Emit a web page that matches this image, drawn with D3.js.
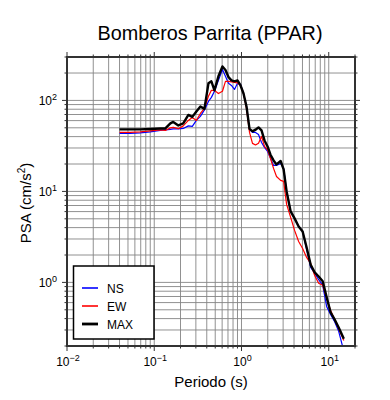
<!DOCTYPE html>
<html>
<head>
<meta charset="utf-8">
<script src="https://cdn.jsdelivr.net/npm/d3@7"></script>
<style>
  body { margin: 0; background: #fff; }
  text { font-family: "Liberation Sans", Arial, Helvetica, sans-serif; fill: #000; }
</style>
</head>
<body>
<svg id="chart" width="390" height="400"></svg>
<script>
// data
let periods = [0.040, 0.053, 0.069, 0.090, 0.117, 0.134, 0.153, 0.165, 0.189, 0.215,
  0.246, 0.273, 0.304, 0.338, 0.376, 0.418, 0.452, 0.490, 0.544, 0.605,
  0.655, 0.709, 0.767, 0.831, 0.900, 0.975, 1.055, 1.141, 1.236, 1.337,
  1.448, 1.567, 1.697, 1.836, 1.99, 2.15, 2.33, 2.52, 2.81, 3.04,
  3.29, 3.66, 4.06, 4.52, 5.02, 5.58, 6.21, 6.90, 7.67, 8.53,
  9.48, 10.5, 11.7, 13.0, 14.9];

let psaNS = [43.4, 43.4, 44.0, 45.1, 46.8, 47.4, 48.0, 48.6, 48.6, 49.2,
  52.5, 51.8, 60.3, 66.7, 78.6, 97.5, 108, 126, 166, 219,
  184, 154, 146, 132, 154, 150, 119, 85.9, 48.0, 44.5,
  44.5, 42.3, 34.5, 30.5, 27.5, 23.2, 19.3, 19.3, 20.3, 17.9,
  10.0, 6.03, 5.05, 4.12, 3.63, 2.30, 1.46, 1.26, 1.07, 0.93,
  0.54, 0.445, 0.37, 0.29, 0.175];

let psaEW = [44.5, 44.5, 45.1, 46.2, 47.4, 46.8, 49.9, 50.5, 48.9, 52.5,
  60.3, 65.0, 60.3, 71.9, 81.7, 111, 129, 129, 119, 126,
  162, 162, 160, 158, 156, 146, 119, 81.7, 44.5, 33.7,
  32.4, 33.9, 40.2, 31.2, 28.6, 23.0, 17.9, 14.6, 13.2, 12.9,
  7.2, 5.18, 3.73, 2.82, 2.36, 1.88, 1.62, 1.19, 0.98, 0.93,
  0.67, 0.49, 0.39, 0.31, 0.23];

let psaMAX = [48.0, 48.0, 48.0, 48.6, 49.2, 49.2, 55.9, 58.0, 53.1, 55.9,
  69.3, 65.9, 75.7, 85.9, 80.7, 154, 162, 129, 184, 236,
  216, 181, 166, 162, 166, 146, 119, 85.9, 48.6, 45.7,
  47.7, 50.5, 46.8, 36.3, 31.2, 25.3, 21.9, 19.8, 21.6, 17.5,
  10.0, 6.03, 5.05, 4.12, 3.63, 2.42, 1.56, 1.29, 1.16, 1.03,
  0.68, 0.47, 0.39, 0.32, 0.24];

let seriesNames  = ["NS", "EW", "MAX"];
let seriesColors = ["#0000ff", "#ff0000", "#000000"];
let seriesWidths = [1.2, 1.2, 2.4];
let xDomain = [0.01, 20];
let yDomain = [0.2, 300];
let xTickExps = [-2, -1, 0, 1];
let yTickExps = [0, 1, 2];

let kChart = { "x": 67, "y": 57, "w": 288, "h": 289 };

let svg = d3.select("#chart");

let x = d3.scaleLog().domain(xDomain).range([kChart.x, kChart.x + kChart.w]);
let y = d3.scaleLog().domain(yDomain).range([kChart.y + kChart.h, kChart.y]);

// 1..9 in every decade inside the domain
function logTicks(domain){
  let out = [];
  for (let e = -3; e <= 3; e++) {
    for (let m = 1; m <= 9; m++) {
      let v = m * Math.pow(10, e);
      if (v >= domain[0] * 0.9999 && v <= domain[1] * 1.0001) out.push(v);
    }
  }
  return out;
}
function isMajor(v){
  let l = Math.log10(v);
  return Math.abs(l - Math.round(l)) < 1e-6;
}

// grid
let grid = svg.append("g").attr("stroke", "#858585").attr("stroke-width", 0.9);
logTicks(xDomain).forEach(function(v){
  grid.append("line").attr("x1", x(v)).attr("x2", x(v))
    .attr("y1", kChart.y).attr("y2", kChart.y + kChart.h);
});
logTicks(yDomain).forEach(function(v){
  grid.append("line").attr("x1", kChart.x).attr("x2", kChart.x + kChart.w)
    .attr("y1", y(v)).attr("y2", y(v));
});

// outside ticks on all four sides
let ticks = svg.append("g").attr("stroke", "#333").attr("stroke-width", 1);
logTicks(xDomain).forEach(function(v){
  let len = isMajor(v) ? 5 : 2.5;
  ticks.append("line").attr("x1", x(v)).attr("x2", x(v))
    .attr("y1", kChart.y + kChart.h).attr("y2", kChart.y + kChart.h + len);
  ticks.append("line").attr("x1", x(v)).attr("x2", x(v))
    .attr("y1", kChart.y).attr("y2", kChart.y - len);
});
logTicks(yDomain).forEach(function(v){
  let len = isMajor(v) ? 5 : 2.5;
  ticks.append("line").attr("x1", kChart.x).attr("x2", kChart.x - len)
    .attr("y1", y(v)).attr("y2", y(v));
  ticks.append("line").attr("x1", kChart.x + kChart.w).attr("x2", kChart.x + kChart.w + len)
    .attr("y1", y(v)).attr("y2", y(v));
});

// series
svg.append("clipPath").attr("id", "clip").append("rect")
  .attr("x", kChart.x).attr("y", kChart.y).attr("width", kChart.w).attr("height", kChart.h);

let line = d3.line().x(function(d){ return x(d[0]); }).y(function(d){ return y(d[1]); });
let allSeries = [psaNS, psaEW, psaMAX];
allSeries.forEach(function(vals, i){
  svg.append("path")
    .datum(periods.map(function(p, j){ return [p, vals[j]]; }))
    .attr("clip-path", "url(#clip)")
    .attr("fill", "none")
    .attr("stroke", seriesColors[i])
    .attr("stroke-width", seriesWidths[i])
    .attr("stroke-linejoin", "round")
    .attr("d", line);
});

// frame
svg.append("rect").attr("x", kChart.x).attr("y", kChart.y)
  .attr("width", kChart.w).attr("height", kChart.h)
  .attr("fill", "none").attr("stroke", "#333").attr("stroke-width", 2);

// tick labels
function powLabel(t, e){
  t.append("tspan").text("10");
  t.append("tspan").attr("dy", -5).attr("font-size", 9).text(e < 0 ? "\u2212" + (-e) : e);
}
xTickExps.forEach(function(e){
  let t = svg.append("text").attr("x", x(Math.pow(10, e)) + 1).attr("y", 366)
    .attr("font-size", 12).attr("text-anchor", "middle");
  powLabel(t, e);
});
yTickExps.forEach(function(e){
  let t = svg.append("text").attr("x", kChart.x - 10).attr("y", y(Math.pow(10, e)) + 5)
    .attr("font-size", 12).attr("text-anchor", "end");
  powLabel(t, e);
});

// titles
svg.append("text").attr("x", 210).attr("y", 40).attr("font-size", 19.8)
  .attr("text-anchor", "middle").text("Bomberos Parrita (PPAR)");
svg.append("text").attr("x", 211).attr("y", 387).attr("font-size", 15)
  .attr("text-anchor", "middle").text("Periodo (s)");
let yl = svg.append("text").attr("transform", "translate(31,203) rotate(-90)")
  .attr("font-size", 15).attr("text-anchor", "middle");
yl.append("tspan").text("PSA (cm/s");
yl.append("tspan").attr("dy", -6).attr("font-size", 10).text("2");
yl.append("tspan").attr("dy", 6).text(")");

// legend
let lg = svg.append("g");
lg.append("rect").attr("x", 73.5).attr("y", 266).attr("width", 80.5).attr("height", 73)
  .attr("fill", "#fff").attr("stroke", "#000").attr("stroke-width", 1.5);
seriesNames.forEach(function(name, i){
  let ly = 288 + i * 18;
  lg.append("line").attr("x1", 82).attr("x2", 98).attr("y1", ly).attr("y2", ly)
    .attr("stroke", seriesColors[i]).attr("stroke-width", seriesWidths[i] + 0.4);
  lg.append("text").attr("x", 107).attr("y", ly + 4.5).attr("font-size", 12).text(name);
});
</script>
</body>
</html>
